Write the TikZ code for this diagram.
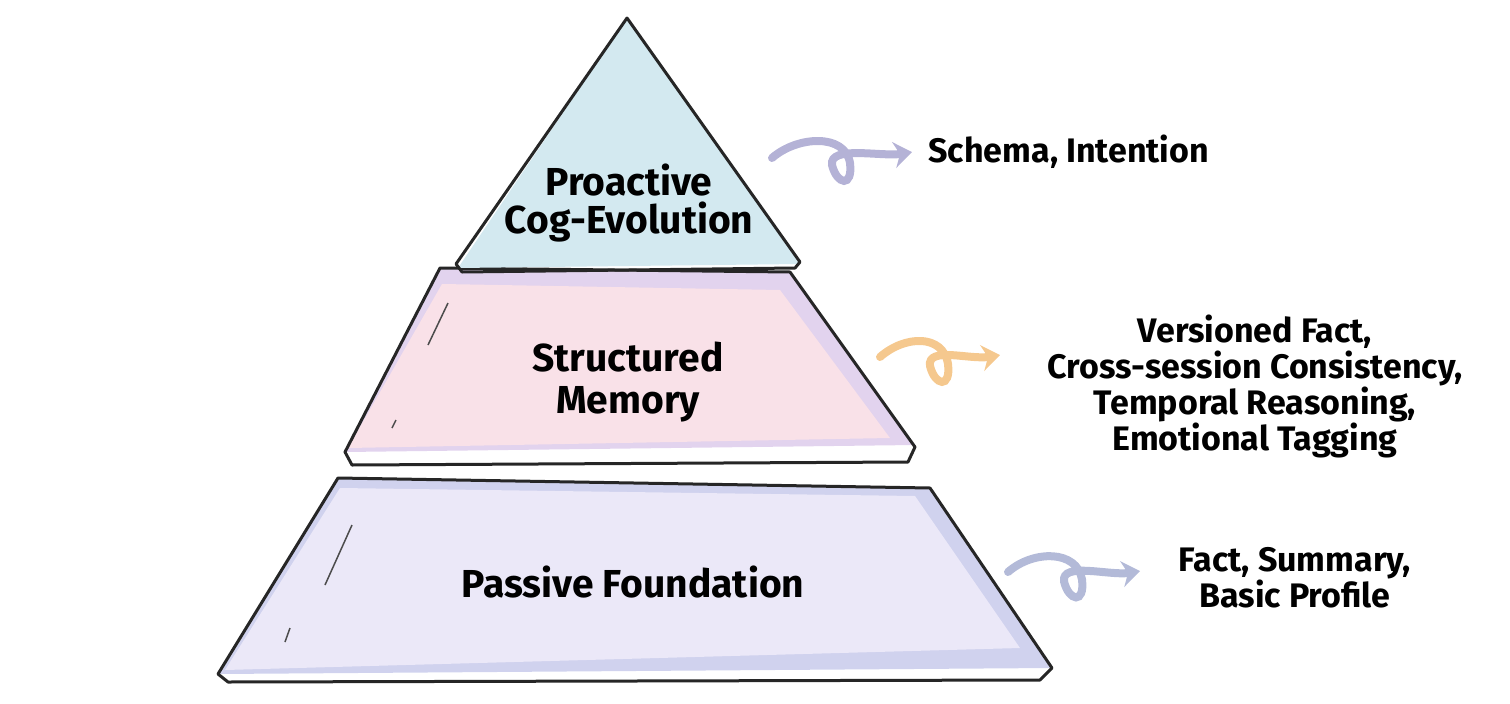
\documentclass[tikz,border=0pt]{standalone}
\usepackage{fontspec}
\setmainfont{Fira Sans}
\usetikzlibrary{arrows.meta,calc}
\definecolor{tblue}{HTML}{D3E9F0}
\definecolor{mpink}{HTML}{F9E1E8}
\definecolor{mpurp}{HTML}{E2D3EE}
\definecolor{blav}{HTML}{EBE8F8}
\definecolor{bsh}{HTML}{D0D2EE}
\definecolor{arrp}{HTML}{B4B2D6}
\definecolor{arro}{HTML}{F5C88E}
\definecolor{arrb}{HTML}{B3BAD8}
\tikzset{
  edge/.style={draw=black!85, line width=3pt, line join=round},
  lab/.style={font=\fontsize{39}{44}\selectfont\bfseries, align=center},
  side/.style={font=\fontsize{34}{40}\selectfont\bfseries, align=center},
  curl/.style={line width=8pt, line cap=round, -{Stealth[length=18pt,width=26pt]}},
}
\begin{document}
\begin{tikzpicture}[x=1pt,y=-1pt]
\useasboundingbox (0,0) rectangle (1510,704);
% bottom
\fill[bsh] (338,478) -- (930,488) -- (1052,668) -- (218,674) -- cycle;
\fill[blav] (340,488) -- (915,496) -- (1020,648) -- (225,670) -- cycle;
\draw[edge] (338,478) -- (930,488) -- (1052,668) -- (1040,680) -- (228,682) -- (218,674) -- cycle;
\draw[black!70, line width=1.5pt] (352,525) -- (325,585) (290,628) -- (285,642);
% middle
\fill[mpurp] (440,268) -- (790,272) -- (915,445) -- (345,452) -- cycle;
\fill[mpink] (442,284) -- (780,290) -- (890,438) -- (348,448) -- cycle;
\draw[edge] (440,268) -- (790,272) -- (915,447) -- (908,462) -- (352,465) -- (345,452) -- cycle;
\draw[black!70, line width=1.5pt] (448,303) -- (428,345) (396,420) -- (392,428);
% top
\fill[tblue] (627,18) -- (800,264) -- (458,268) -- cycle;
\draw[edge] (627,18) -- (800,262) -- (795,268) -- (462,272) -- (456,264) -- cycle;
\node[lab] (t) at (629,203) {Proactive\\[-6pt]Cog-Evolution};
\node[lab] (m) at (628,382) {Structured\\[-2pt]Memory};
\node[lab] (b) at (633,582) {Passive Foundation};
\node[side, anchor=west] (ts) at (925,152) {Schema, Intention};
\node[side] (ms) at (1255,386) {Versioned Fact,\\[-4pt]Cross-session Consistency,\\[-4pt]Temporal Reasoning,\\[-4pt]Emotional Tagging};
\node[side] (bs) at (1295,578) {Fact, Summary,\\[-4pt]Basic Profile};
\coordinate (a1) at (772,158); \coordinate (e1) at (912,152);
\coordinate (a2) at (880,357); \coordinate (e2) at (1000,355);
\coordinate (a3) at (1008,572); \coordinate (e3) at (1140,571);
\foreach \s/\e/\c in {a1/e1/arrp, a2/e2/arro, a3/e3/arrb}{
 \draw[curl, \c] (\s) .. controls ($(\s)+(25,-22)$) and ($(\s)!0.5!(\e)+(3,-22)$) .. ($(\s)!0.5!(\e)+(8,8)$)
   .. controls ($(\s)!0.5!(\e)+(11,33)$) and ($(\s)!0.5!(\e)+(-5,30)$) .. ($(\s)!0.5!(\e)+(-10,10)$)
   .. controls ($(\s)!0.5!(\e)+(-13,-10)$) and ($(\e)+(-30,5)$) .. (\e);
}
\end{tikzpicture}
\end{document}
